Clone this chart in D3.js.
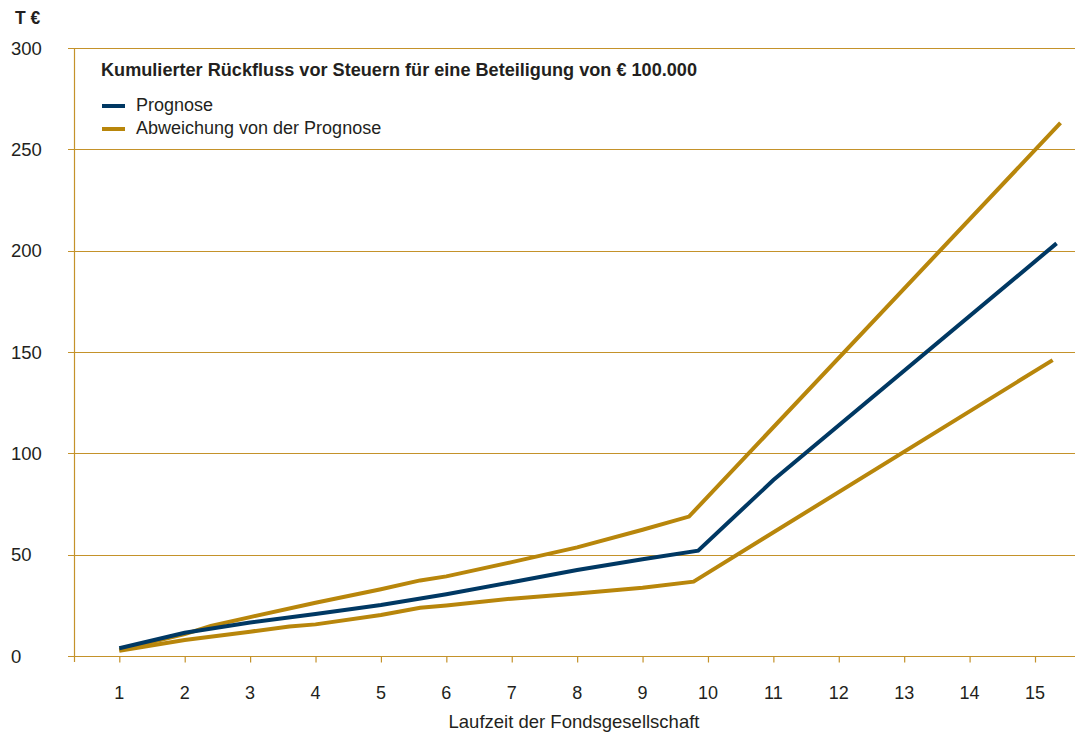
<!DOCTYPE html>
<html>
<head>
<meta charset="utf-8">
<script src="https://cdn.jsdelivr.net/npm/d3@7"></script>
<style>
  html, body { margin: 0; padding: 0; background: #fff; }
  svg { display: block; }
  text { font-family: "Liberation Sans", Arial, sans-serif; fill: #231f20; }
</style>
</head>
<body>
<svg id="chart" width="1075" height="734"></svg>
<script>
// Laufzeit (Jahre) für die Achsenbeschriftung
const years = [1, 2, 3, 4, 5, 6, 7, 8, 9, 10, 11, 12, 13, 14, 15];
const yTicks = [0, 50, 100, 150, 200, 250, 300];

// Kumulierter Rückfluss in T€ – Prognose
const prognoseX = [1, 2, 3, 4, 5, 6, 7, 8, 9, 9.85, 11, 15.33];
const prognoseY = [3.8, 11.5, 16.5, 20.7, 25.2, 30.5, 36.4, 42.4, 47.7, 52, 86.8, 203.6];

// Abweichung nach oben
const obenX = [1, 2, 2.4, 3, 4, 5, 5.6, 6, 7, 8, 9, 9.71, 15.39];
const obenY = [3.0, 10.8, 14.8, 19.2, 26.3, 32.9, 37.3, 39.3, 46.3, 53.6, 62.3, 68.8, 263];

// Abweichung nach unten
const untenX = [1, 2, 3, 3.6, 4, 5, 5.6, 6, 7, 8, 9, 9.78, 15.27];
const untenY = [2.6, 7.9, 12, 14.6, 15.6, 20.2, 23.8, 24.9, 28.3, 30.8, 33.7, 36.7, 146];

const GOLD = "#b8860b";
const GRID = "#c4922a";
const NAVY = "#003863";

const svg = d3.select("#chart");

const axisLeft = 74, axisRight = 1075;
const x = d3.scaleLinear().domain([1, 15]).range([119.3, 1035]);
const y = d3.scaleLinear().domain([0, 300]).range([656, 48]);

// Gitterlinien
svg.append("g").selectAll("line")
  .data(yTicks)
  .join("line")
  .attr("x1", 68).attr("x2", axisRight)
  .attr("y1", d => Math.round(y(d)) + 0.5).attr("y2", d => Math.round(y(d)) + 0.5)
  .attr("stroke", GRID).attr("stroke-width", 1.2);

// y-Achse
svg.append("line")
  .attr("x1", axisLeft + 0.5).attr("x2", axisLeft + 0.5)
  .attr("y1", y(300)).attr("y2", y(0) + 6)
  .attr("stroke", GRID).attr("stroke-width", 1.2);

// x-Achse mit Teilstrichen
const xAxis = d3.axisBottom(x).tickValues(years).tickSize(6).tickFormat("");
const gx = svg.append("g").attr("transform", `translate(0,${Math.round(y(0)) + 0.5})`).call(xAxis);
gx.select(".domain").remove();
gx.selectAll(".tick line").attr("stroke", GRID).attr("stroke-width", 1.2);

// Beschriftung x
svg.append("g").selectAll("text")
  .data(years)
  .join("text")
  .attr("x", d => x(d))
  .attr("y", 699)
  .attr("text-anchor", "middle")
  .attr("font-size", 18)
  .text(d => d);

// Beschriftung y
svg.append("g").selectAll("text")
  .data(yTicks)
  .join("text")
  .attr("x", 11)
  .attr("y", d => y(d) + 6.5)
  .attr("font-size", 18.5)
  .text(d => d);

svg.append("text")
  .attr("x", 15).attr("y", 24)
  .attr("font-size", 17.5).attr("font-weight", "bold")
  .text("T €");

svg.append("text")
  .attr("x", 574).attr("y", 728)
  .attr("text-anchor", "middle")
  .attr("font-size", 18.5)
  .text("Laufzeit der Fondsgesellschaft");

// Kurven
const line = d3.line().x(d => x(d[0])).y(d => y(d[1]));
const series = [
  { xs: obenX, ys: obenY, color: GOLD },
  { xs: untenX, ys: untenY, color: GOLD },
  { xs: prognoseX, ys: prognoseY, color: NAVY }
];
svg.append("g").selectAll("path")
  .data(series)
  .join("path")
  .attr("d", s => line(s.xs.map((v, i) => [v, s.ys[i]])))
  .attr("fill", "none")
  .attr("stroke", s => s.color)
  .attr("stroke-width", 4)
  .attr("stroke-linejoin", "miter");

// Titel und Legende
svg.append("text")
  .attr("x", 101).attr("y", 76)
  .attr("font-size", 17.5).attr("font-weight", "bold")
  .attr("textLength", 596).attr("lengthAdjust", "spacingAndGlyphs")
  .text("Kumulierter Rückfluss vor Steuern für eine Beteiligung von € 100.000");

const legend = [
  { label: "Prognose", color: NAVY },
  { label: "Abweichung von der Prognose", color: GOLD }
];
const lg = svg.append("g").selectAll("g")
  .data(legend)
  .join("g")
  .attr("transform", (d, i) => `translate(101,${105 + i * 23})`);
lg.append("rect")
  .attr("x", 1).attr("y", -1).attr("width", 23).attr("height", 4)
  .attr("fill", d => d.color);
lg.append("text")
  .attr("x", 35).attr("y", 6)
  .attr("font-size", 18)
  .text(d => d.label);
</script>
</body>
</html>
